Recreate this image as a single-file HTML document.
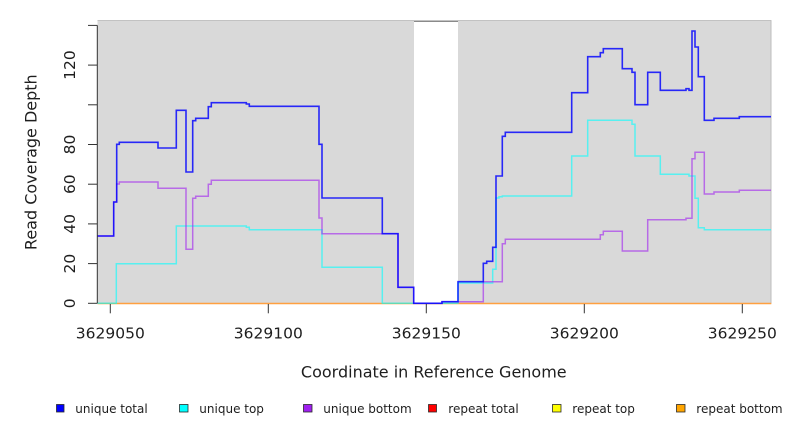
<!DOCTYPE html>
<html><head><meta charset="utf-8"><style>
html,body{margin:0;padding:0;background:#fff;}
svg{display:block;}
text{font-family:"DejaVu Sans","Liberation Sans",sans-serif;fill:#1e1e1e;}
</style></head><body>
<svg width="792" height="432" viewBox="0 0 792 432" xmlns="http://www.w3.org/2000/svg">
<!-- plot background -->
<rect x="97.5" y="20.3" width="673.8" height="283.5" fill="#d9d9d9"/>
<line x1="97.5" y1="20.5" x2="771.3" y2="20.5" stroke="#c2c2c2" stroke-width="1"/>
<line x1="771" y1="20.3" x2="771" y2="303.8" stroke="#bdbdbd" stroke-width="1"/>
<!-- white gap -->
<rect x="414" y="21" width="44" height="282.8" fill="#ffffff"/>
<line x1="414" y1="21.5" x2="458" y2="21.5" stroke="#8a8a8a" stroke-width="1"/>

<!-- zero lines (repeat series) -->
<line x1="97.5" y1="303.5" x2="771.3" y2="303.5" stroke="#ffa040" stroke-width="1.4"/>

<!-- cyan: unique top -->
<path d="M97.5,303.3 H116.3 V263.7 H176.3 V226 H246.3 V227.3 H249.3 V229.7 H322 V267.3 H382.3 V303.3 H458 V283 H492.7 V269.3 H496 V198 H499 V196.7 H502.3 V196 H571.7 V156 H587.7 V120.3 H632 V124.3 H635 V156 H660.3 V174.3 H689 V176 H695 V198.3 H698.3 V227.7 H704.3 V229.7 H771"
 fill="none" stroke="#00ffff" stroke-opacity="0.6" stroke-width="1.5"/>
<!-- purple: unique bottom -->
<path d="M97.5,236 H113.7 V202 H116.7 V184 H119.3 V182 H158 V188.3 H186 V249.3 H192.7 V198.3 H195.7 V196.3 H208.3 V184.3 H211.3 V180.3 H319 V218 H322 V233.7 H398 V287.3 H413.7 V303.3 H442 V301.7 H483.3 V281.7 H502.3 V243.7 H505.3 V239.3 H600.3 V234.7 H603.3 V231.3 H622.3 V251 H647.7 V219.7 H686 V218.3 H692 V158.7 H695 V152.3 H704.3 V194 H714 V192 H739.3 V190.3 H771"
 fill="none" stroke="#a020f0" stroke-opacity="0.6" stroke-width="1.5"/>
<!-- blue: unique total -->
<path d="M97.5,236 H113.7 V202 H116.7 V144.3 H119.3 V142.3 H158 V148 H176.3 V110.3 H186 V172 H192.7 V120.7 H195.7 V118.3 H208.3 V106.7 H211.3 V102.7 H246.3 V104 H249.3 V106.3 H319 V144.3 H322 V198 H382.3 V233.7 H398 V287.3 H413.7 V303.3 H442 V301.7 H458 V281.7 H483.3 V263.3 H486.7 V261.3 H492.7 V247.3 H496 V176 H502.3 V136.3 H505.3 V132.3 H571.7 V92.7 H587.7 V56.7 H600.3 V52.7 H603.3 V48.7 H622.3 V68.7 H632 V72.3 H635 V104.7 H647.7 V72.3 H660.3 V90.3 H686 V88.7 H689 V90.3 H692 V31 H695 V47 H698.3 V76.7 H704.3 V120.3 H714 V118.3 H739.3 V116.7 H771"
 fill="none" stroke="#0000ff" stroke-opacity="0.82" stroke-width="1.6"/>

<!-- y axis -->
<g stroke="#333" stroke-width="1">
<line x1="97.3" y1="25.4" x2="97.3" y2="303.3"/>
<line x1="88" y1="303.3" x2="97.3" y2="303.3"/>
<line x1="88" y1="263.6" x2="97.3" y2="263.6"/>
<line x1="88" y1="223.9" x2="97.3" y2="223.9"/>
<line x1="88" y1="184.2" x2="97.3" y2="184.2"/>
<line x1="88" y1="144.5" x2="97.3" y2="144.5"/>
<line x1="88" y1="104.8" x2="97.3" y2="104.8"/>
<line x1="88" y1="65.1" x2="97.3" y2="65.1"/>
<line x1="88" y1="25.4" x2="97.3" y2="25.4"/>
</g>
<g font-size="15.5" text-anchor="middle">
<text transform="translate(75,303.3) rotate(-90)">0</text>
<text transform="translate(75,263.6) rotate(-90)">20</text>
<text transform="translate(75,223.9) rotate(-90)">40</text>
<text transform="translate(75,184.2) rotate(-90)">60</text>
<text transform="translate(75,144.5) rotate(-90)">80</text>
<text transform="translate(75,65.1) rotate(-90)">120</text>
</g>
<text transform="translate(36.5,162.2) rotate(-90)" font-size="16" text-anchor="middle">Read Coverage Depth</text>

<!-- x axis ticks -->
<g stroke="#333" stroke-width="1">
<line x1="110.3" y1="304" x2="110.3" y2="313.3"/>
<line x1="268.3" y1="304" x2="268.3" y2="313.3"/>
<line x1="426.3" y1="304" x2="426.3" y2="313.3"/>
<line x1="584.3" y1="304" x2="584.3" y2="313.3"/>
<line x1="742.3" y1="304" x2="742.3" y2="313.3"/>
</g>
<g font-size="15.5" text-anchor="middle">
<text x="110.3" y="338.3">3629050</text>
<text x="268.3" y="338.3">3629100</text>
<text x="426.3" y="338.3">3629150</text>
<text x="584.3" y="338.3">3629200</text>
<text x="742.3" y="338.3">3629250</text>
</g>
<text x="433.8" y="377.3" font-size="16" text-anchor="middle">Coordinate in Reference Genome</text>

<!-- legend -->
<g stroke="#2a2a2a" stroke-width="0.8">
<rect x="56.5" y="404.5" width="7.5" height="7.5" fill="#0000ff"/>
<rect x="179.5" y="404.5" width="8.5" height="7.5" fill="#00ffff"/>
<rect x="303.5" y="404.5" width="8.5" height="7.5" fill="#a020f0"/>
<rect x="428.5" y="404.5" width="8" height="7.5" fill="#ff0000"/>
<rect x="552.5" y="404.5" width="8.5" height="7.5" fill="#ffff00"/>
<rect x="676.5" y="404.5" width="8.5" height="7.5" fill="#ffa500"/>
</g>
<g font-size="12">
<text x="75.3" y="413">unique total</text>
<text x="199.3" y="413">unique top</text>
<text x="323.3" y="413">unique bottom</text>
<text x="448.3" y="413">repeat total</text>
<text x="572.3" y="413">repeat top</text>
<text x="696.3" y="413">repeat bottom</text>
</g>
</svg>
</body></html>
